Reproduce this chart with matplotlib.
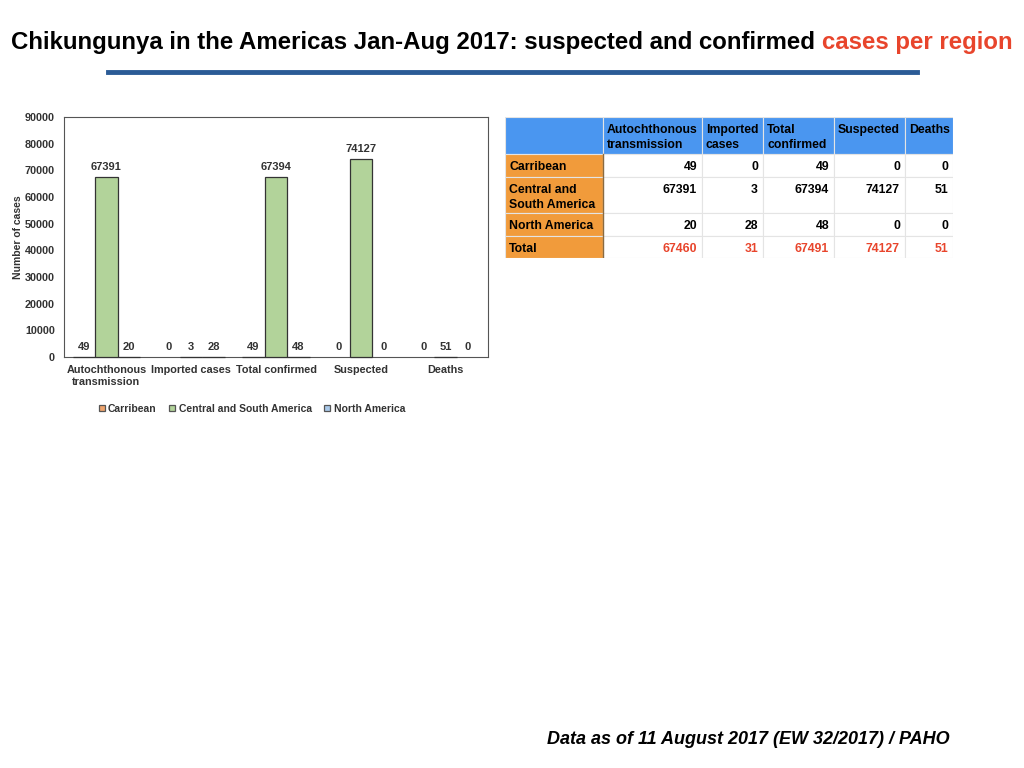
import matplotlib.pyplot as plt
import numpy as np
from matplotlib.patches import Rectangle

plt.rcParams['font.family'] = ['Liberation Sans', 'DejaVu Sans']

# データ
categories = ['Autochthonous\ntransmission', 'Imported cases', 'Total confirmed', 'Suspected', 'Deaths']
regions = ['Carribean', 'Central and South America', 'North America']
carribean = [49, 0, 49, 0, 0]
central_south = [67391, 3, 67394, 74127, 51]
north_america = [20, 28, 48, 0, 0]
totals = [67460, 31, 67491, 74127, 51]

table_cols = ['Autochthonous\ntransmission', 'Imported\ncases', 'Total\nconfirmed', 'Suspected', 'Deaths']
table_rows = ['Carribean', 'Central and\nSouth America', 'North America', 'Total']

bar_colors = ['#f0a46c', '#b2d39a', '#a9c9ea']
W, H = 1024, 768

fig = plt.figure(figsize=(W / 100, H / 100), dpi=100)

# タイトル（2色なので幅を測ってから中央寄せ）
title_a = 'Chikungunya in the Americas Jan-Aug 2017: suspected and confirmed '
title_b = 'cases per region'
ty = 1 - 42 / H
fs = 17.3
t1 = fig.text(0, ty, title_a, ha='left', va='center', fontsize=fs, fontweight='bold')
t2 = fig.text(0, ty, title_b, ha='left', va='center', fontsize=fs, fontweight='bold', color='#e8452c')
fig.canvas.draw()
w1 = t1.get_window_extent().width
w2 = t2.get_window_extent().width
x0 = (W - w1 - w2) / 2
t1.set_x(x0 / W)
t2.set_x((x0 + w1) / W)
fig.add_artist(plt.Line2D([108 / W, 917 / W], [1 - 72 / H, 1 - 72 / H],
                          color='#2b5b96', linewidth=3.5))

# 棒グラフ
ax = fig.add_axes([64 / W, 1 - 357 / H, 424 / W, 240 / H])
x = np.arange(len(categories))
bw = 0.265
series = [carribean, central_south, north_america]
for i, (vals, name) in enumerate(zip(series, regions)):
    edges = ['#333333' if v > 0 else 'none' for v in vals]
    bars = ax.bar(x + (i - 1) * bw, vals, bw, color=bar_colors[i], edgecolor=edges,
                  linewidth=0.9, label=name, zorder=3, clip_on=False)
    for xi, v in zip(x + (i - 1) * bw, vals):
        ax.text(xi, v + 2000, str(v), ha='center', va='bottom', fontsize=8,
                fontweight='bold', color='#333333')
ax.set_xlim(-0.5, len(categories) - 0.5)
ax.set_ylim(0, 90000)
ax.set_yticks(np.arange(0, 90001, 10000))
ax.tick_params(axis='y', labelsize=7.8, length=0, pad=6.5, labelcolor='#333333')
ax.tick_params(axis='x', labelsize=7.8, length=0, pad=6, labelcolor='#333333')
ax.set_xticks(x)
ax.set_xticklabels(categories)
for lab in ax.get_yticklabels() + ax.get_xticklabels():
    lab.set_fontweight('bold')
ax.set_ylabel('Number of cases', fontsize=7.5, fontweight='bold', color='#333333', labelpad=1)
for s in ax.spines.values():
    s.set_color('#555555')
    s.set_linewidth(0.8)
leg = ax.legend(loc='upper center', bbox_to_anchor=(0.443, -0.155), ncol=3, frameon=False,
                fontsize=7.5, handlelength=0.6, handleheight=0.6, handletextpad=0.3,
                columnspacing=1.2)
for patch in leg.get_patches():
    patch.set_edgecolor('#555555')
for t in leg.get_texts():
    t.set_fontweight('bold')
    t.set_color('#333333')

# 表
col_w = [98, 99, 61, 71, 71, 48]
row_h = [37, 23, 36, 23, 22]
tx0, ty0 = 505, 117
tw, th = sum(col_w), sum(row_h)
tax = fig.add_axes([tx0 / W, 1 - (ty0 + th) / H, tw / W, th / H])
tax.set_xlim(0, tw)
tax.set_ylim(th, 0)
tax.axis('off')
xe = np.concatenate([[0], np.cumsum(col_w)])
ye = np.concatenate([[0], np.cumsum(row_h)])
cell_vals = [carribean, central_south, north_america, totals]
tfs = 8.8
for r in range(len(row_h)):
    for c in range(len(col_w)):
        if r == 0:
            fc = '#4a96f0'
        elif c == 0:
            fc = '#f19b3b'
        else:
            fc = 'white'
        tax.add_patch(Rectangle((xe[c], ye[r]), col_w[c], row_h[r], facecolor=fc,
                                edgecolor='#e4e4e4', linewidth=0.8))
        if r == 0 and c > 0:
            tax.text(xe[c] + 4, ye[r] + 7, table_cols[c - 1], ha='left', va='top',
                     fontsize=tfs, fontweight='bold', linespacing=1.3)
        elif r > 0 and c == 0:
            tax.text(xe[c] + 4, ye[r] + 7, table_rows[r - 1], ha='left', va='top',
                     fontsize=tfs, fontweight='bold', linespacing=1.3)
        elif r > 0:
            color = '#e8452c' if r == len(row_h) - 1 else 'black'
            tax.text(xe[c + 1] - 5, ye[r] + 7, str(cell_vals[r - 1][c - 1]), ha='right',
                     va='top', fontsize=tfs, fontweight='bold', color=color)
tax.plot([xe[1], xe[1]], [ye[1], th], color='#8a6a40', linewidth=1.0)

# 出典
fig.text(950 / W, 1 - 740 / H, 'Data as of 11 August 2017 (EW 32/2017) / PAHO', ha='right',
         va='center', fontsize=13, fontweight='bold', fontstyle='italic')

fig.savefig('out.png', dpi=100)
